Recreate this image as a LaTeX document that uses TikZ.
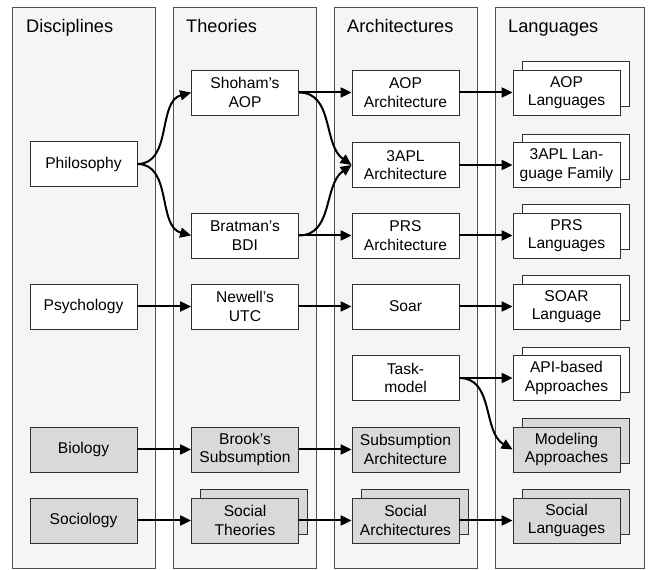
\documentclass[tikz,border=0pt]{standalone}
\usepackage{fontspec}
\setmainfont{Liberation Sans}
\usetikzlibrary{arrows.meta,shadows}
\definecolor{panelfill}{HTML}{F5F5F5}
\definecolor{panelline}{HTML}{505050}
\definecolor{boxline}{HTML}{303030}
\definecolor{boxgray}{HTML}{D9D9D9}
\newcommand\bxfont{\fontsize{15.6}{18.4}\selectfont}
\newcommand\ttlfont{\fontsize{18.2}{21}\selectfont}

\begin{document}
\begin{tikzpicture}[x=1pt,y=1pt,
  panel/.style={draw=panelline, fill=panelfill, line width=0.8pt},
  title/.style={anchor=base west, inner sep=0pt, font=\ttlfont},
  box/.style={draw=boxline, fill=white, line width=0.8pt, minimum width=107pt,
    minimum height=45pt, inner sep=0pt, align=center, font=\bxfont},
  gbox/.style={box, fill=boxgray},
  wstack/.style={box, copy shadow={shadow xshift=9pt, shadow yshift=8.5pt,
    draw=boxline, fill=white, line width=0.8pt}},
  gstack/.style={gbox, copy shadow={shadow xshift=9pt, shadow yshift=8.5pt,
    draw=boxline, fill=boxgray, line width=0.8pt}},
  link/.style={line width=2pt, -{Triangle[length=11pt,width=10pt]}}
]
\useasboundingbox (0,0) rectangle (651,570);

% column panels
\draw[panel] (12,2) rectangle (155,563);
\draw[panel] (173,2) rectangle (316,563);
\draw[panel] (334,2) rectangle (477,563);
\draw[panel] (495,2) rectangle (644,563);

% column headings
\node[title] (tdisc) at (26,537.3) {Disciplines};
\node[title] (ttheo) at (186,537.3) {Theories};
\node[title] (tarch) at (347,537.3) {Architectures};
\node[title] (tlang) at (508,537.3) {Languages};

% disciplines
\node[box]  (phil)  at (83.5,406)   {Philosophy};
\node[box]  (psych) at (83.5,263.5) {Psychology};
\node[gbox] (bio)   at (83.5,120.5) {Biology};
\node[gbox] (soc)   at (83.5,49.5)  {Sociology};

% theories
\node[box]    (shoham)  at (245,477.5) {Shoham’s\\AOP};
\node[box]    (bratman) at (245,334.5) {Bratman’s\\BDI};
\node[box]    (newell)  at (245,263.5) {Newell’s\\UTC};
\node[gbox]   (brook)   at (245,120.5) {Brook’s\\Subsumption};
\node[gstack] (socth)   at (245,49.5)  {Social\\Theories};

% architectures
\node[box]    (aoparch) at (405.5,477.5) {AOP\\Architecture};
\node[box]    (aplarch) at (405.5,405)   {3APL\\Architecture};
\node[box]    (prsarch) at (405.5,334.5) {PRS\\Architecture};
\node[box]    (soar)    at (405.5,263.5) {Soar};
\node[box]    (task)    at (405.5,192)   {Task-\\model};
\node[gbox]   (subs)    at (405.5,120.5) {Subsumption\\Architecture};
\node[gstack] (socarch) at (405.5,49.5)  {Social\\Architectures};

% languages
\node[wstack] (aoplang)  at (566.5,477.5) {AOP\\Languages};
\node[wstack] (apllang)  at (566.5,405)   {3APL Lan-\\guage Family};
\node[wstack] (prslang)  at (566.5,334.5) {PRS\\Languages};
\node[wstack] (soarlang) at (566.5,263.5) {SOAR\\Language};
\node[wstack] (api)      at (566.5,192)   {API-based\\Approaches};
\node[gstack] (modeling) at (566.5,120.5) {Modeling\\Approaches};
\node[gstack] (soclang)  at (566.5,49.5)  {Social\\Languages};

% connectors
\draw[link] (phil.east) to[out=0,in=195] (shoham.west);
\draw[link] (phil.east) to[out=0,in=165] (bratman.west);
\draw[link] (psych) -- (newell);
\draw[link] (bio) -- (brook);
\draw[link] (soc) -- (socth);

\draw[link] (shoham) -- (aoparch);
\draw[link] (shoham.east) to[out=0,in=145] (aplarch.west);
\draw[link] (bratman.east) to[out=0,in=215] (aplarch.west);
\draw[link] (bratman) -- (prsarch);
\draw[link] (newell) -- (soar);
\draw[link] (brook) -- (subs);
\draw[link] (socth) -- (socarch);

\draw[link] (aoparch) -- (aoplang);
\draw[link] (aplarch) -- (apllang);
\draw[link] (prsarch) -- (prslang);
\draw[link] (soar) -- (soarlang);
\draw[link] (task) -- (api);
\draw[link] (task.east) to[out=0,in=150] (modeling.west);
\draw[link] (socarch) -- (soclang);
\end{tikzpicture}
\end{document}
